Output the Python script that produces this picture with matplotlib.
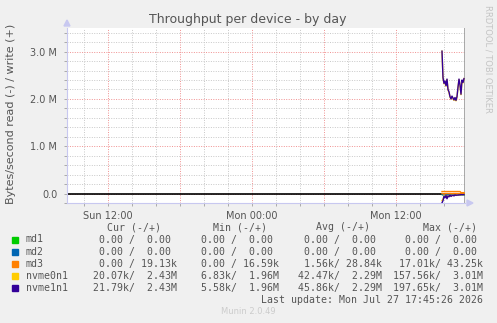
import matplotlib
matplotlib.use('Agg')
import matplotlib.pyplot as plt
import matplotlib.dates as mdates
import matplotlib.ticker as mticker
from matplotlib.patches import Rectangle
import numpy as np
import pandas as pd

W, H = 497, 323

# samples every 5 minutes, at the end of the window
start_time = '2026-07-27 15:50'
n_points = 23
md1_read = [0.0] * n_points
md1_write = [0.0] * n_points
md2_read = [0.0] * n_points
md2_write = [0.0] * n_points
md3_read = [0, 0, 17e3, 0, 0, 0, 0, 0, 0, 0, 5e3, 0, 0, 0, 0, 0, 0, 0, 0, 0, 0, 0, 0]
md3_write = [43e3, 42e3, 43e3, 42e3, 43e3, 42e3, 43e3, 43e3, 42e3, 43e3, 42e3, 43e3,
             42e3, 43e3, 42e3, 43e3, 43e3, 42e3, 43e3, 20e3, 19e3, 19e3, 19e3]
nvme0_read = [150e3, 120e3, 55e3, 80e3, 38e3, 95e3, 48e3, 62e3, 30e3, 55e3, 42e3, 33e3,
              46e3, 24e3, 37e3, 28e3, 32e3, 24e3, 28e3, 19e3, 23e3, 21e3, 20e3]
nvme0_write = [3.01e6, 2.44e6, 2.32e6, 2.37e6, 2.27e6, 2.41e6, 2.19e6, 2.14e6, 2.04e6, 2.0e6,
               2.05e6, 2.01e6, 1.97e6, 2.02e6, 1.96e6, 2.04e6, 2.24e6, 2.41e6, 2.29e6, 2.09e6,
               2.39e6, 2.34e6, 2.43e6]
nvme1_read = [197e3, 150e3, 60e3, 90e3, 40e3, 110e3, 50e3, 70e3, 30e3, 60e3, 45e3, 35e3,
              50e3, 25e3, 40e3, 30e3, 35e3, 25e3, 30e3, 20e3, 25e3, 22e3, 22e3]
nvme1_write = [3.01e6, 2.45e6, 2.33e6, 2.38e6, 2.28e6, 2.42e6, 2.2e6, 2.15e6, 2.05e6, 2.0e6,
               2.06e6, 2.02e6, 1.98e6, 2.03e6, 1.97e6, 2.05e6, 2.25e6, 2.42e6, 2.3e6, 2.1e6,
               2.4e6, 2.35e6, 2.43e6]

names = ['md1', 'md2', 'md3', 'nvme0n1', 'nvme1n1']
colors = ['#00CC00', '#0066B3', '#FF8000', '#FFCC00', '#330099']
cur = ['  0.00 /  0.00 ', '  0.00 /  0.00 ', '  0.00 / 19.13k', ' 20.07k/  2.43M', ' 21.79k/  2.43M']
mins = ['  0.00 /  0.00 ', '  0.00 /  0.00 ', '  0.00 / 16.59k', '  6.83k/  1.96M', '  5.58k/  1.96M']
avgs = ['  0.00 /  0.00 ', '  0.00 /  0.00 ', '  1.56k/ 28.84k', ' 42.47k/  2.29M', ' 45.86k/  2.29M']
maxs = ['  0.00 /  0.00 ', '  0.00 /  0.00 ', ' 17.01k/ 43.25k', '157.56k/  3.01M', '197.65k/  3.01M']

times = pd.date_range(start_time, periods=n_points, freq='5min')
reads = [md1_read, md2_read, md3_read, nvme0_read, nvme1_read]
writes = [md1_write, md2_write, md3_write, nvme0_write, nvme1_write]


def fx(x):
    return x / W


def fy(y):
    return 1 - y / H


fig = plt.figure(figsize=(W / 100, H / 100), dpi=100, facecolor='#F0F0F0')
ax = fig.add_axes([fx(67), fy(203), (465 - 67) / W, (203 - 28) / H])
ax.set_facecolor('white')

ax.set_xlim(pd.Timestamp('2026-07-26 08:35'), pd.Timestamp('2026-07-27 17:45'))
ax.set_ylim(-0.2e6, 3.5e6)

ax.xaxis.set_major_locator(mdates.HourLocator(byhour=[0, 6, 12, 18]))
ax.xaxis.set_minor_locator(mdates.HourLocator(byhour=range(0, 24, 2)))


def xfmt(v, pos):
    d = mdates.num2date(v)
    if d.hour in (0, 12):
        return d.strftime('%a %H:%M')
    return ''


ax.xaxis.set_major_formatter(mticker.FuncFormatter(xfmt))
ax.yaxis.set_major_locator(mticker.MultipleLocator(1e6))
ax.yaxis.set_minor_locator(mticker.MultipleLocator(0.2e6))
ax.yaxis.set_major_formatter(mticker.FuncFormatter(
    lambda v, p: '0.0' if abs(v) < 1 else f'{v / 1e6:.1f} M'))

ax.grid(which='minor', color='#C8C8C8', linestyle=(0, (1, 1.5)), linewidth=0.7)
ax.grid(which='major', color='#F09090', linestyle=(0, (1, 1.5)), linewidth=0.7)
ax.tick_params(which='both', length=2, width=0.7, color='#AAAAAA', labelsize=7,
               labelcolor='#555555')
ax.tick_params(axis='x', pad=4)
ax.tick_params(axis='y', pad=5)
for s in ['top', 'right']:
    ax.spines[s].set_visible(False)
ax.spines['left'].set_color('#C8C8F0')
ax.spines['bottom'].set_color('#C8C8F0')
ax.spines['left'].set_linewidth(0.8)
ax.spines['bottom'].set_linewidth(0.8)

ax.axhline(0, color='black', linewidth=1.2, zorder=2)
ax.axvline(ax.get_xlim()[1], color='#999999', linewidth=1.2, zorder=2)

for c, r, w in zip(colors, reads, writes):
    ax.plot(times, -np.array(r), color=c, linewidth=1, zorder=3)
    ax.plot(times, w, color=c, linewidth=1, zorder=3)

# axis arrows
fig.patches.append(plt.Polygon([[fx(64), fy(26)], [fx(70), fy(26)], [fx(67), fy(20)]],
                               closed=True, color='#C8C8F0', transform=fig.transFigure))
fig.patches.append(plt.Polygon([[fx(467), fy(200)], [fx(467), fy(206)], [fx(473), fy(203)]],
                               closed=True, color='#C8C8F0', transform=fig.transFigure))

fig.text(fx(248), fy(19), 'Throughput per device - by day', ha='center', va='center',
         fontsize=9, color='#555555')
fig.text(fx(11), fy(114), 'Bytes/second read (-) / write (+)', ha='center', va='center',
         rotation=90, fontsize=8, color='#555555')
fig.text(fx(488), fy(5), 'RRDTOOL / TOBI OETIKER', ha='center', va='top',
         rotation=270, fontsize=6, color='#C4C4C4')

mono = 'DejaVu Sans Mono'
fs = 7.15
cw = 0.602 * fs * 100 / 72
txt = '#555555'
headers = ['Cur (-/+)', 'Min (-/+)', 'Avg (-/+)', 'Max (-/+)']
head_x = [107, 213, 316, 423]
for h, x in zip(headers, head_x):
    fig.text(fx(x), fy(227), h, ha='left', va='center', family=mono, fontsize=fs, color=txt)

col_right = [176.5, 279, 382, 483]
row_y = [239.5, 251.7, 263.8, 276, 288.2]
for i, name in enumerate(names):
    y = row_y[i]
    fig.patches.append(Rectangle((fx(12), fy(y + 3)), 6 / W, 6 / H, color=colors[i],
                                 transform=fig.transFigure))
    fig.text(fx(26), fy(y), name, ha='left', va='center', family=mono, fontsize=fs, color=txt)
    for col, xr in zip([cur, mins, avgs, maxs], col_right):
        s = col[i]
        fig.text(fx(xr - len(s) * cw), fy(y), s, ha='left', va='center', family=mono,
                 fontsize=fs, color=txt)

fig.text(fx(483), fy(300), 'Last update: Mon Jul 27 17:45:26 2026', ha='right', va='center',
         family=mono, fontsize=fs, color=txt)
fig.text(fx(248), fy(312), 'Munin 2.0.49', ha='center', va='center', fontsize=6,
         color='#CCCCCC')

fig.savefig('out.png', dpi=100, facecolor=fig.get_facecolor())
